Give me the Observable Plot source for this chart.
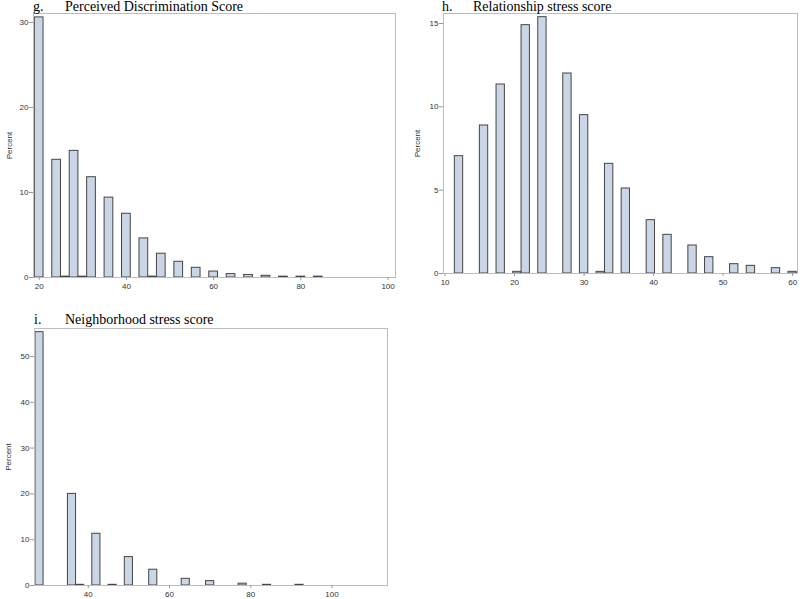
<!DOCTYPE html>
<html><head><meta charset="utf-8">
<script src="https://cdn.jsdelivr.net/npm/d3@7"></script>
<script src="https://cdn.jsdelivr.net/npm/@observablehq/plot@0.6"></script>
<style>
body{margin:0;background:#fff;}
#wrap{position:relative;width:800px;height:599px;overflow:hidden;background:#fff;}
.panel{position:absolute;}
.title{position:absolute;font-family:"Liberation Serif","Times New Roman",serif;font-size:14px;line-height:14px;color:#000;white-space:nowrap;}
</style></head><body>
<div id="wrap">
  <div class="panel" id="pg" style="left:0;top:0"></div>
  <div class="panel" id="ph" style="left:400px;top:0"></div>
  <div class="panel" id="pi" style="left:0;top:320px"></div>
  <div class="title" style="left:33px;top:0px">g.</div>
  <div class="title" style="left:65px;top:0px">Perceived Discrimination Score</div>
  <div class="title" style="left:442px;top:0px">h.</div>
  <div class="title" style="left:473px;top:0px">Relationship stress score</div>
  <div class="title" style="left:34px;top:313px">i.</div>
  <div class="title" style="left:65px;top:313px">Neighborhood stress score</div>
</div>
<script>
// g. Perceived Discrimination Score (bin midpoints, width 2)
const gBins = [20,24,26,28,30,32,36,40,44,46,48,52,56,60,64,68,72,76,80,84];
const gPct  = [30.6,13.85,0.1,14.9,0.1,11.8,9.4,7.5,4.6,0.1,2.8,1.85,1.14,0.7,0.4,0.3,0.2,0.1,0.1,0.1];
const gXTicks = [20,40,60,80,100];
const gYTicks = [0,10,20,30];

// h. Relationship stress score (bin midpoints, width 1.2)
const hBins = [12,15.6,18,20.4,21.6,24,27.6,30,32.4,33.6,36,39.6,42,45.6,48,51.6,54,57.6,60];
const hPct  = [7.04,8.88,11.34,0.1,14.9,15.38,12.0,9.5,0.1,6.58,5.1,3.2,2.32,1.68,0.98,0.56,0.46,0.32,0.1];
const hXTicks = [10,20,30,40,50,60];
const hYTicks = [0,5,10,15];

// i. Neighborhood stress score (bin midpoints, width 2)
const iBins = [28,36,38,42,46,50,56,64,70,78,84,92];
const iPct  = [55.3,20.0,0.15,11.3,0.15,6.2,3.45,1.46,0.95,0.4,0.15,0.15];
const iXTicks = [40,60,80,100];
const iYTicks = [0,10,20,30,40,50];

function panel(o){
  const data = o.bins.map((b,i)=>({b, p:o.pct[i]}));
  const bw = o.binWidth;
  return Plot.plot({
    width:o.W, height:o.H,
    marginTop:o.mt, marginRight:o.mr, marginBottom:o.mb, marginLeft:o.ml,
    style:{fontFamily:"'Liberation Sans', Arial, sans-serif", fontSize:"8px", color:"#333", background:"transparent"},
    x:{domain:o.xDomain},
    y:{domain:o.yDomain},
    marks:[
      Plot.rectY(data,{x1:d=>d.b-bw/2, x2:d=>d.b+bw/2, y1:0, y2:"p", fill:"#cad5e5", stroke:"#454545", strokeWidth:1}),
      Plot.frame({stroke:"#bdbdbd"}),
      Plot.axisX({ticks:o.xTicks, tickSize:3, tickPadding:3, stroke:"#999", fill:"#333", label:null}),
      Plot.axisY({ticks:o.yTicks, tickSize:4, tickPadding:1, stroke:"#999", fill:"#333", label:"Percent", labelAnchor:"center", labelArrow:"none", labelOffset:o.lo})
    ]
  });
}

document.getElementById("pg").append(panel({
  bins:gBins, pct:gPct, binWidth:2, xDomain:[18.7,101.7], yDomain:[0,31.06],
  xTicks:gXTicks, yTicks:gYTicks, W:400, H:300, mt:13, mr:5, mb:23, ml:33, lo:27
}));
document.getElementById("ph").append(panel({
  bins:hBins, pct:hPct, binWidth:1.2, xDomain:[9.77,60.7], yDomain:[0,15.6],
  xTicks:hXTicks, yTicks:hYTicks, W:400, H:300, mt:13, mr:3, mb:27, ml:43, lo:29
}));
document.getElementById("pi").append(panel({
  bins:iBins, pct:iPct, binWidth:2, xDomain:[26.77,113.66], yDomain:[0,56.1],
  xTicks:iXTicks, yTicks:iYTicks, W:400, H:279, mt:8, mr:13, mb:14, ml:34, lo:29
}));
</script>
</body></html>
